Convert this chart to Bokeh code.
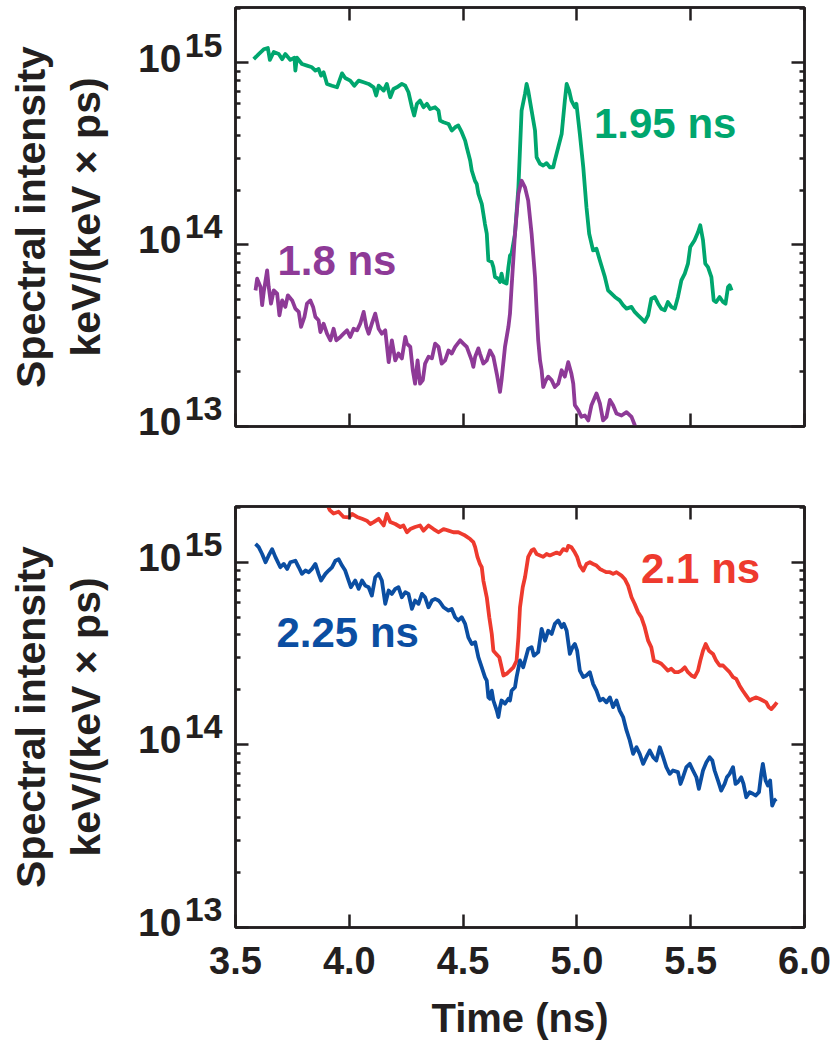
from bokeh.plotting import figure
from bokeh.models import (Range1d, LinearAxis, LogAxis, FixedTicker, Label, LogScale,
                          PrintfTickFormatter, CustomJSTickFormatter)
from bokeh.layouts import column
from bokeh.embed import file_html
from bokeh.resources import INLINE

FONT = "Liberation Sans"
TXT = "#231f20"

# ---------------- axes ----------------
x_ticks = [3.5, 4.0, 4.5, 5.0, 5.5, 6.0]
y_decades = [1e13, 1e14, 1e15]
y_decade_base = ["10", "10", "10"]
y_decade_sup = ["13", "14", "15"]
x_title = "Time (ns)"
y_title = "Spectral intensity\nkeV/(keV \u00d7 ps)"

# ---------------- top panel: 1.95 ns (green) ----------------
t_195 = [3.580, 3.602, 3.624, 3.642, 3.651, 3.668, 3.690, 3.705, 3.719, 3.741,
         3.759, 3.763, 3.770, 3.792, 3.814, 3.836, 3.851, 3.865, 3.876, 3.887,
         3.902, 3.924, 3.946, 3.968, 3.982, 4.004, 4.022, 4.041, 4.063, 4.085,
         4.107, 4.118, 4.129, 4.151, 4.165, 4.180, 4.194, 4.209, 4.231, 4.246,
         4.260, 4.275, 4.285, 4.297, 4.311, 4.326, 4.341, 4.355, 4.377, 4.392,
         4.399, 4.414, 4.436, 4.450, 4.465, 4.479, 4.494, 4.509, 4.516, 4.531,
         4.538, 4.552, 4.560, 4.567, 4.582, 4.589, 4.596, 4.604, 4.611, 4.626,
         4.633, 4.640, 4.655, 4.662, 4.669, 4.677, 4.691, 4.699, 4.706, 4.713,
         4.728, 4.743, 4.757, 4.772, 4.779, 4.786, 4.801, 4.816, 4.823, 4.838,
         4.852, 4.867, 4.881, 4.896, 4.903, 4.918, 4.933, 4.947, 4.955, 4.966,
         4.976, 4.991, 4.998, 5.013, 5.028, 5.042, 5.054, 5.071, 5.086, 5.101,
         5.123, 5.137, 5.152, 5.167, 5.188, 5.203, 5.218, 5.240, 5.254, 5.269,
         5.284, 5.298, 5.313, 5.327, 5.342, 5.357, 5.371, 5.386, 5.400, 5.415,
         5.430, 5.444, 5.459, 5.474, 5.488, 5.498, 5.517, 5.532, 5.542, 5.554,
         5.564, 5.576, 5.591, 5.601, 5.612, 5.627, 5.642, 5.653, 5.664, 5.671, 5.680]
v_195 = [1.05e15, 1.12e15, 1.19e15, 1.21e15, 1.04e15, 1.15e15, 1.12e15, 1.05e15, 1.12e15, 1.04e15,
         1.07e15, 9.08e14, 1.07e15, 9.87e14, 9.67e14, 9.47e14, 9.08e14, 9.27e14, 8.52e14, 8.89e14,
         7.67e14, 7.50e14, 7.35e14, 8.77e14, 8.27e14, 8.00e14, 7.50e14, 8.00e14, 7.83e14, 7.67e14,
         7.35e14, 6.62e14, 7.50e14, 7.05e14, 7.67e14, 6.48e14, 7.19e14, 7.35e14, 7.67e14, 7.50e14,
         6.90e14, 5.71e14, 5.14e14, 5.96e14, 6.21e14, 5.71e14, 5.96e14, 5.58e14, 5.71e14, 5.47e14,
         4.82e14, 4.72e14, 4.62e14, 4.25e14, 4.43e14, 4.53e14, 4.16e14, 3.74e14, 3.44e14, 2.91e14,
         2.56e14, 2.25e14, 2.16e14, 1.91e14, 1.68e14, 1.48e14, 1.30e14, 1.15e14, 8.20e13, 8.03e13,
         7.53e13, 6.64e13, 6.50e13, 6.24e13, 6.93e13, 6.24e13, 6.11e13, 7.53e13, 8.73e13, 8.93e13,
         1.15e14, 2.07e14, 5.47e14, 6.76e14, 7.67e14, 7.05e14, 5.47e14, 4.25e14, 3.03e14, 2.79e14,
         2.73e14, 2.81e14, 2.67e14, 2.67e14, 2.91e14, 3.44e14, 4.07e14, 6.21e14, 7.67e14, 7.05e14,
         6.21e14, 5.71e14, 5.96e14, 4.07e14, 2.67e14, 1.61e14, 1.15e14, 9.31e13, 9.51e13, 8.20e13,
         6.64e13, 5.61e13, 5.38e13, 5.16e13, 4.94e13, 4.65e13, 4.45e13, 4.55e13, 4.27e13, 4.09e13,
         3.92e13, 3.76e13, 4.09e13, 5.05e13, 5.16e13, 4.74e13, 4.45e13, 4.36e13, 4.84e13, 4.55e13,
         4.45e13, 5.16e13, 6.37e13, 6.93e13, 7.87e13, 9.71e13, 1.06e14, 1.17e14, 1.28e14, 1.06e14,
         7.87e13, 7.53e13, 6.64e13, 4.94e13, 4.84e13, 5.16e13, 4.84e13, 4.74e13, 5.85e13, 5.98e13, 5.61e13]

# ---------------- top panel: 1.8 ns (purple) ----------------
t_18 = [3.588, 3.595, 3.610, 3.617, 3.624, 3.639, 3.646, 3.656, 3.668, 3.683,
        3.693, 3.705, 3.719, 3.730, 3.749, 3.763, 3.778, 3.788, 3.803, 3.814,
        3.829, 3.841, 3.851, 3.865, 3.873, 3.887, 3.902, 3.917, 3.931, 3.943,
        3.961, 3.975, 3.990, 4.004, 4.019, 4.034, 4.048, 4.063, 4.075, 4.085,
        4.099, 4.114, 4.129, 4.143, 4.158, 4.173, 4.187, 4.202, 4.216, 4.231,
        4.246, 4.253, 4.268, 4.279, 4.289, 4.300, 4.311, 4.323, 4.333, 4.348,
        4.363, 4.377, 4.392, 4.406, 4.421, 4.436, 4.450, 4.465, 4.487, 4.501, 4.516,
        4.538, 4.545, 4.553, 4.567, 4.574, 4.589, 4.604, 4.618, 4.633,
        4.648, 4.662, 4.669, 4.684, 4.699, 4.706, 4.713, 4.728, 4.743, 4.757,
        4.772, 4.786, 4.801, 4.816, 4.823, 4.830, 4.838, 4.845, 4.852, 4.864,
        4.874, 4.889, 4.903, 4.918, 4.933, 4.947, 4.962, 4.976, 4.984, 4.991,
        5.006, 5.020, 5.035, 5.050, 5.064, 5.086, 5.101, 5.115, 5.130, 5.145,
        5.159, 5.174, 5.196, 5.218, 5.240, 5.254, 5.269]
v_18 = [5.61e13, 6.50e13, 5.85e13, 4.65e13, 5.50e13, 7.23e13, 5.85e13, 4.74e13, 5.61e13, 5.38e13,
        4.09e13, 4.94e13, 4.55e13, 5.27e13, 4.94e13, 4.45e13, 4.27e13, 3.53e13, 4.01e13, 4.74e13,
        4.94e13, 4.55e13, 4.01e13, 3.84e13, 3.31e13, 3.68e13, 3.24e13, 2.98e13, 3.45e13, 2.98e13,
        3.11e13, 3.24e13, 3.38e13, 3.11e13, 3.45e13, 3.38e13, 3.68e13, 4.27e13, 3.53e13, 3.24e13,
        3.68e13, 4.18e13, 3.45e13, 3.24e13, 3.38e13, 2.26e13, 2.98e13, 2.31e13, 2.52e13, 2.37e13,
        3.11e13, 2.86e13, 2.74e13, 2.04e13, 1.72e13, 2.31e13, 1.72e13, 1.80e13, 2.22e13, 2.42e13,
        2.37e13, 2.86e13, 2.74e13, 2.22e13, 2.31e13, 2.62e13, 2.52e13, 2.74e13, 2.98e13, 2.86e13, 2.74e13,
        2.31e13, 2.13e13, 2.42e13, 2.69e13, 2.52e13, 2.22e13, 2.31e13, 2.62e13, 2.42e13,
        1.95e13, 1.55e13, 1.80e13, 2.74e13, 3.53e13, 4.18e13, 5.85e13, 1.15e14, 1.91e14, 2.25e14,
        2.07e14, 1.75e14, 1.15e14, 6.64e13, 4.36e13, 2.98e13, 2.31e13, 2.04e13, 1.65e13, 1.80e13,
        1.88e13, 1.80e13, 1.65e13, 1.72e13, 2.04e13, 1.88e13, 2.26e13, 1.95e13, 1.72e13, 1.31e13,
        1.23e13, 1.13e13, 1.15e13, 1.08e13, 1.31e13, 1.52e13, 1.34e13, 1.08e13, 1.13e13, 1.40e13,
        1.31e13, 1.18e13, 1.15e13, 1.20e13, 1.13e13, 1.02e13, 8.8e12]

# ---------------- bottom panel: 2.25 ns (blue) ----------------
t_225 = [3.588, 3.602, 3.617, 3.632, 3.646, 3.661, 3.675, 3.697, 3.712, 3.727,
         3.741, 3.763, 3.778, 3.792, 3.807, 3.822, 3.836, 3.851, 3.865, 3.876,
         3.895, 3.909, 3.924, 3.939, 3.953, 3.968, 3.982, 3.997, 4.007, 4.026,
         4.041, 4.056, 4.070, 4.085, 4.099, 4.114, 4.129, 4.143, 4.158, 4.173,
         4.187, 4.202, 4.216, 4.231, 4.246, 4.260, 4.275, 4.289, 4.304, 4.319,
         4.333, 4.348, 4.363, 4.377, 4.392,
         4.399, 4.414, 4.436, 4.450, 4.465, 4.479, 4.494, 4.509, 4.523, 4.538,
         4.553, 4.567, 4.582, 4.596, 4.604, 4.611, 4.618, 4.626, 4.633, 4.648,
         4.655, 4.662, 4.669, 4.684, 4.699, 4.706, 4.713, 4.728, 4.735, 4.750,
         4.764, 4.776, 4.786, 4.801, 4.811, 4.830, 4.845, 4.860, 4.874, 4.889,
         4.903, 4.918, 4.933, 4.943, 4.955, 4.969, 4.981, 4.991, 5.001, 5.013,
         5.028, 5.042, 5.057, 5.071, 5.086, 5.101, 5.115, 5.130, 5.145, 5.159,
         5.174, 5.188, 5.203, 5.218, 5.232, 5.247, 5.262, 5.276, 5.291, 5.305,
         5.320, 5.335, 5.349, 5.364, 5.379, 5.393, 5.408, 5.422, 5.444, 5.455,
         5.466, 5.481, 5.496, 5.510, 5.525, 5.536, 5.554, 5.569, 5.583, 5.595,
         5.605, 5.620, 5.634, 5.649, 5.659, 5.671, 5.686, 5.697, 5.707, 5.722,
         5.732, 5.744, 5.759, 5.773, 5.785, 5.800, 5.810, 5.817, 5.829, 5.839,
         5.849, 5.858, 5.868, 5.876]
v_225 = [1.26e15, 1.21e15, 1.11e15, 1.00e15, 1.09e15, 1.18e15, 1.07e15, 9.39e14, 9.79e14, 9.20e14,
         1.00e15, 1.02e15, 9.39e14, 8.64e14, 9.01e14, 8.82e14, 9.20e14, 9.79e14, 8.64e14, 7.94e14,
         8.64e14, 9.01e14, 9.39e14, 1.02e15, 1.04e15, 9.59e14, 9.01e14, 7.94e14, 7.30e14, 7.94e14,
         7.15e14, 7.94e14, 7.45e14, 7.30e14, 6.57e14, 8.28e14, 8.64e14, 7.94e14, 5.92e14, 7.00e14,
         6.71e14, 7.15e14, 7.30e14, 6.43e14, 6.85e14, 6.71e14, 5.56e14, 6.17e14, 5.92e14, 6.71e14,
         6.43e14, 5.67e14, 6.17e14, 6.30e14, 6.17e14,
         6.04e14, 5.67e14, 5.44e14, 5.55e14, 5.00e14, 4.80e14, 5.00e14, 4.60e14, 3.88e14, 3.57e14,
         3.65e14, 3.02e14, 2.66e14, 2.35e14, 2.25e14, 1.82e14, 1.79e14, 1.98e14, 1.75e14, 1.54e14,
         1.42e14, 1.61e14, 1.75e14, 1.68e14, 1.79e14, 1.75e14, 1.98e14, 2.07e14, 2.35e14, 2.90e14,
         2.66e14, 3.02e14, 3.35e14, 3.43e14, 3.08e14, 3.22e14, 4.32e14, 3.72e14, 4.22e14, 4.05e14,
         4.60e14, 4.80e14, 4.41e14, 4.60e14, 4.22e14, 3.15e14, 3.43e14, 3.57e14, 3.28e14, 2.55e14,
         2.35e14, 2.40e14, 2.50e14, 2.16e14, 1.98e14, 1.75e14, 1.79e14, 1.71e14, 1.82e14, 1.61e14,
         1.75e14, 1.54e14, 1.42e14, 1.20e14, 1.06e14, 8.93e13, 9.71e13, 8.93e13, 7.87e13, 8.56e13,
         9.31e13, 8.56e13, 8.21e13, 9.71e13, 8.56e13, 7.55e13, 6.94e13, 7.24e13, 7.09e13, 6.11e13,
         6.65e13, 7.55e13, 7.87e13, 7.24e13, 6.65e13, 5.74e13, 7.24e13, 8.04e13, 8.56e13, 8.21e13,
         7.24e13, 6.38e13, 5.62e13, 6.11e13, 6.65e13, 6.94e13, 7.55e13, 6.11e13, 6.24e13, 6.65e13,
         6.11e13, 5.17e13, 5.51e13, 5.40e13, 5.28e13, 5.51e13, 6.94e13, 7.87e13, 6.38e13, 5.99e13,
         6.38e13, 4.65e13, 4.96e13, 5.06e13]

# ---------------- bottom panel: 2.1 ns (red) ----------------
t_21 = [3.902, 3.914, 3.931, 3.953, 3.975, 3.997, 4.012, 4.034, 4.056, 4.077,
        4.092, 4.107, 4.129, 4.151, 4.165, 4.180, 4.202, 4.224, 4.238, 4.253,
        4.268, 4.289, 4.311, 4.326, 4.348, 4.370, 4.392,
        4.414, 4.436, 4.457, 4.479, 4.494, 4.509, 4.531, 4.545, 4.553, 4.563,
        4.574, 4.582, 4.589, 4.604, 4.615, 4.626, 4.633, 4.645, 4.659, 4.669,
        4.677, 4.691, 4.706, 4.721, 4.735, 4.743, 4.750, 4.762, 4.772, 4.786,
        4.801, 4.811, 4.823, 4.838, 4.852, 4.867, 4.881, 4.896, 4.911, 4.925,
        4.940, 4.955, 4.962, 4.976, 4.991, 5.001, 5.013, 5.028, 5.042, 5.057,
        5.071, 5.086, 5.101, 5.115, 5.130, 5.145, 5.159, 5.174, 5.196, 5.210,
        5.225, 5.240, 5.254, 5.269, 5.283, 5.298, 5.313, 5.327, 5.338, 5.357,
        5.371, 5.386, 5.400, 5.415, 5.430, 5.444, 5.459, 5.474, 5.488, 5.503,
        5.517, 5.532, 5.542, 5.554, 5.566, 5.580, 5.598, 5.612, 5.627, 5.642,
        5.656, 5.671, 5.686, 5.700, 5.715, 5.729, 5.744, 5.759, 5.773, 5.788,
        5.802, 5.817, 5.832, 5.843, 5.854, 5.868, 5.879]
v_21 = [2.09e15, 1.93e15, 1.85e15, 1.89e15, 1.77e15, 1.76e15, 1.84e15, 1.77e15, 1.73e15, 1.69e15,
        1.62e15, 1.66e15, 1.73e15, 1.59e15, 1.84e15, 1.66e15, 1.62e15, 1.56e15, 1.59e15, 1.46e15,
        1.52e15, 1.56e15, 1.59e15, 1.49e15, 1.59e15, 1.52e15, 1.46e15,
        1.52e15, 1.49e15, 1.46e15, 1.46e15, 1.43e15, 1.40e15, 1.34e15, 1.29e15, 1.21e15, 1.07e15,
        9.79e14, 9.39e14, 7.94e14, 6.43e14, 5.00e14, 4.05e14, 3.28e14, 3.15e14, 3.02e14, 2.66e14,
        2.40e14, 2.45e14, 2.55e14, 2.66e14, 2.89e14, 3.88e14, 5.67e14, 7.30e14, 8.28e14, 1.07e15,
        1.16e15, 1.18e15, 1.11e15, 1.09e15, 1.07e15, 1.11e15, 1.09e15, 1.11e15, 1.13e15, 1.11e15,
        1.18e15, 1.16e15, 1.23e15, 1.21e15, 1.13e15, 1.07e15, 9.59e14, 9.00e14, 9.79e14, 1.00e15,
        9.79e14, 9.59e14, 9.19e14, 9.00e14, 8.82e14, 8.82e14, 8.64e14, 8.82e14, 8.45e14, 8.10e14,
        7.45e14, 6.43e14, 5.91e14, 5.32e14, 5.00e14, 4.41e14, 3.72e14, 3.42e14, 2.89e14, 2.84e14,
        2.78e14, 2.66e14, 2.55e14, 2.61e14, 2.50e14, 2.50e14, 2.55e14, 2.66e14, 2.50e14, 2.40e14,
        2.35e14, 2.55e14, 2.89e14, 3.28e14, 3.57e14, 3.28e14, 3.15e14, 2.89e14, 2.72e14, 2.72e14,
        2.61e14, 2.50e14, 2.35e14, 2.30e14, 2.11e14, 1.98e14, 1.86e14, 1.75e14, 1.79e14, 1.82e14,
        1.79e14, 1.75e14, 1.71e14, 1.61e14, 1.57e14, 1.64e14, 1.71e14]

# ---------------- series labels ----------------
lab_195 = ("1.95 ns", 5.075, 3.86e14)
lab_18 = ("1.8 ns", 3.684, 6.78e13)
lab_21 = ("2.1 ns", 5.282, 7.67e14)
lab_225 = ("2.25 ns", 3.680, 3.42e14)

GREEN = "#00a66e"
PURPLE = "#8e3a97"
RED = "#ee3a2e"
BLUE = "#0b4ea2"

Y_LO, Y_HI = 1e13, 2.02e15
SUP_SHIFT = 1.255   # lifts the exponent labels ~18 px (superscript)
BASE_SHIFT = 1.065  # lifts the "10" labels ~5 px


def blank():
    return CustomJSTickFormatter(code="return '';")


def by_index(labels):
    return CustomJSTickFormatter(args=dict(labels=labels, ticks_all=y_decades),
                                 code="""
        let best = 0, bd = 1e9;
        for (let i = 0; i < ticks_all.length; i++) {
            const d = Math.abs(Math.log10(ticks_all[i]) - Math.log10(tick));
            if (d < bd) { bd = d; best = i; }
        }
        return labels[best];""")


def style_ticks(ax, ticker):
    ax.ticker = ticker
    ax.axis_line_color = TXT
    ax.axis_line_width = 2.5
    ax.major_tick_line_color = TXT
    ax.major_tick_line_width = 2.5
    ax.major_tick_in = 13
    ax.major_tick_out = 0
    ax.minor_tick_line_color = TXT
    ax.minor_tick_line_width = 2.5
    ax.minor_tick_in = 5
    ax.minor_tick_out = 0


def label_axis(range_name, labels, size, standoff):
    ax = LogAxis(y_range_name=range_name,
                 ticker=FixedTicker(ticks=y_decades, minor_ticks=[]),
                 formatter=by_index(labels))
    ax.axis_line_color = None
    ax.major_tick_line_color = None
    ax.minor_tick_line_color = None
    ax.major_tick_in = 0
    ax.major_tick_out = 0
    ax.minor_tick_in = 0
    ax.minor_tick_out = 0
    ax.major_label_text_font = FONT
    ax.major_label_text_font_style = "bold"
    ax.major_label_text_font_size = size
    ax.major_label_text_color = TXT
    ax.major_label_standoff = standoff
    return ax


def make_panel(frame_h, border_top, border_bottom, bottom_labels):
    p = figure(frame_width=569, frame_height=frame_h,
               x_range=Range1d(3.5, 6.0), y_range=Range1d(Y_LO, Y_HI),
               y_axis_type="log", output_backend="svg", toolbar_location=None,
               min_border_left=235, min_border_right=32,
               min_border_top=border_top, min_border_bottom=border_bottom,
               background_fill_color="white", border_fill_color="white")
    p.extra_y_ranges = {"sup": Range1d(Y_LO / SUP_SHIFT, Y_HI / SUP_SHIFT),
                        "base": Range1d(Y_LO / BASE_SHIFT, Y_HI / BASE_SHIFT)}
    p.extra_y_scales = {"sup": LogScale(), "base": LogScale()}
    p.xgrid.visible = False
    p.ygrid.visible = False
    p.outline_line_color = TXT
    p.outline_line_width = 2.5

    minor_y = [m * d for d in y_decades for m in range(2, 10)]

    # bottom x axis
    bottom = p.below[0]
    style_ticks(bottom, FixedTicker(ticks=x_ticks, minor_ticks=[]))
    if bottom_labels:
        bottom.formatter = PrintfTickFormatter(format="%.1f")
        bottom.major_label_text_font = FONT
        bottom.major_label_text_font_style = "bold"
        bottom.major_label_text_font_size = "38px"
        bottom.major_label_text_color = TXT
        bottom.major_label_standoff = 19
        bottom.axis_label = x_title
        bottom.axis_label_text_font = FONT
        bottom.axis_label_text_font_style = "bold"
        bottom.axis_label_text_font_size = "40px"
        bottom.axis_label_text_color = TXT
        bottom.axis_label_standoff = 19
    else:
        bottom.formatter = blank()
        bottom.major_label_standoff = 0

    # left: tick marks only (next to the frame)
    inner = p.left[0]
    style_ticks(inner, FixedTicker(ticks=y_decades, minor_ticks=minor_y))
    inner.formatter = blank()
    inner.major_label_standoff = 0

    # exponent labels (superscript)
    sup = label_axis("sup", y_decade_sup, "34px", 13)
    p.add_layout(sup, "left")

    # base "10" labels + two-line title
    base = label_axis("base", y_decade_base, "39px", 0)
    base.axis_label = y_title
    base.axis_label_text_font = FONT
    base.axis_label_text_font_style = "bold"
    base.axis_label_text_font_size = "41px"
    base.axis_label_text_color = TXT
    base.axis_label_text_line_height = 1.2
    base.axis_label_standoff = 26
    p.add_layout(base, "left")

    top = LinearAxis(formatter=blank(), major_label_standoff=0)
    style_ticks(top, FixedTicker(ticks=x_ticks, minor_ticks=[]))
    p.add_layout(top, "above")
    right = LogAxis(formatter=blank(), major_label_standoff=0)
    style_ticks(right, FixedTicker(ticks=y_decades, minor_ticks=minor_y))
    p.add_layout(right, "right")
    return p


def add_series(p, t, v, color, lab):
    p.line(t, v, line_color=color, line_width=3.8, line_join="round")
    text, lx, ly = lab
    p.add_layout(Label(x=lx, y=ly, y_offset=15, text=text, text_align="left",
                       text_baseline="alphabetic",
                       text_font=FONT, text_font_style="bold", text_font_size="42px",
                       text_color=color))


p1 = make_panel(419, 7, 40, False)
add_series(p1, t_195, v_195, GREEN, lab_195)
add_series(p1, t_18, v_18, PURPLE, lab_18)

p2 = make_panel(421, 40, 120, True)
add_series(p2, t_21, v_21, RED, lab_21)
add_series(p2, t_225, v_225, BLUE, lab_225)

layout = column(p1, p2, spacing=0)
open("out.html", "w").write(file_html(layout, INLINE))
